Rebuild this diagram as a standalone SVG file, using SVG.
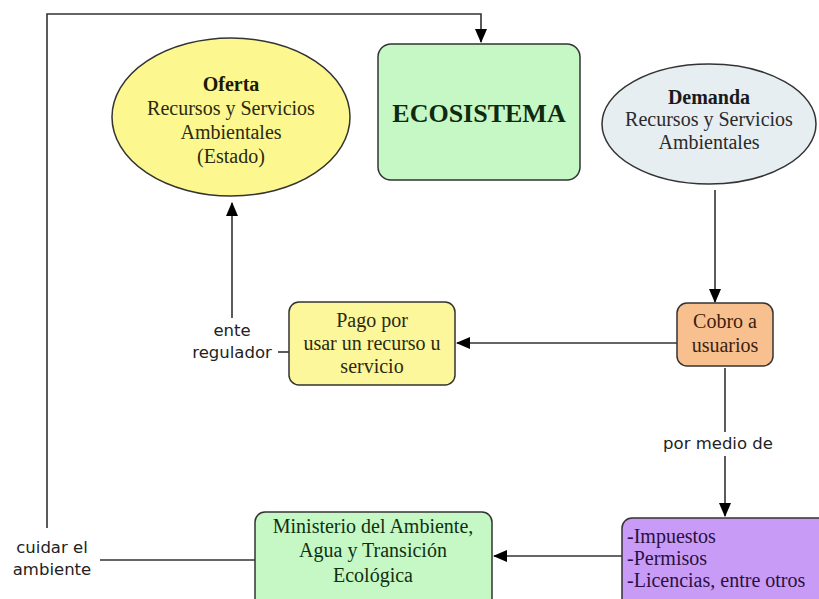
<svg xmlns="http://www.w3.org/2000/svg" width="819" height="599" viewBox="0 0 819 599">
<defs>
<marker id="arr" markerWidth="14" markerHeight="12" refX="13" refY="6" orient="auto" markerUnits="userSpaceOnUse">
<path d="M0,0 L14,6 L0,12 Z" fill="#000"/>
</marker>
<style>
.node{stroke:#333;stroke-width:1.5}
.t{font-family:"Liberation Serif","Times New Roman",serif;font-size:20px;text-anchor:middle}
.b{font-weight:bold}
.l{text-anchor:start}
.big{font-size:26px}
.lbl{font-family:"DejaVu Sans",Verdana,sans-serif;font-size:16.5px;fill:#222;text-anchor:middle}
.c{fill:none;stroke:#333;stroke-width:1.6}
</style>
</defs>
<rect width="819" height="599" fill="#fff"/>
<g id="connectors">
<polyline class="c" points="47,528 47,14 481,14 481,42" marker-end="url(#arr)"/>
<line class="c" x1="232" y1="318" x2="232" y2="203" marker-end="url(#arr)"/>
<line class="c" x1="278" y1="352" x2="289" y2="352"/>
<line class="c" x1="677" y1="343" x2="457" y2="343" marker-end="url(#arr)"/>
<line class="c" x1="715" y1="190" x2="715" y2="302" marker-end="url(#arr)"/>
<line class="c" x1="725" y1="368" x2="725" y2="432"/>
<line class="c" x1="725" y1="456" x2="725" y2="516" marker-end="url(#arr)"/>
<line class="c" x1="622" y1="556" x2="494" y2="556" marker-end="url(#arr)"/>
<line class="c" x1="255" y1="560" x2="100" y2="560"/>
<text class="lbl" x="232" y="336">ente</text>
<text class="lbl" x="232" y="358">regulador</text>
<text class="lbl" x="718" y="449">por medio de</text>
<text class="lbl" x="52" y="553">cuidar el</text>
<text class="lbl" x="52" y="575">ambiente</text>
</g>
<g id="oferta">
<ellipse class="node" cx="231" cy="117" rx="119" ry="79" fill="#fdf78f"/>
<text class="t b" x="231" y="91" fill="#1a1a00">Oferta</text>
<text class="t" x="231" y="115" fill="#2a2a10">Recursos y Servicios</text>
<text class="t" x="231" y="139" fill="#2a2a10">Ambientales</text>
<text class="t" x="231" y="163" fill="#2a2a10">(Estado)</text>
</g>
<g id="ecosistema">
<rect class="node" x="378" y="44" width="202" height="136" rx="13" fill="#c6f8c6"/>
<text class="t b big" x="479" y="122" fill="#0f2a0f">ECOSISTEMA</text>
</g>
<g id="demanda">
<ellipse class="node" cx="709" cy="124" rx="107" ry="60" fill="#e6eef1"/>
<text class="t b" x="709" y="104" fill="#1a1a1a">Demanda</text>
<text class="t" x="709" y="126" fill="#2a2a2a">Recursos y Servicios</text>
<text class="t" x="709" y="149" fill="#2a2a2a">Ambientales</text>
</g>
<g id="pago">
<rect class="node" x="289" y="302" width="166" height="83" rx="10" fill="#fdf79b"/>
<text class="t" x="372" y="327" fill="#2a2a10">Pago por</text>
<text class="t" x="372" y="350" fill="#2a2a10">usar un recurso u</text>
<text class="t" x="372" y="373" fill="#2a2a10">servicio</text>
</g>
<g id="cobro">
<rect class="node" x="677" y="303" width="96" height="63" rx="10" fill="#f9c08f"/>
<text class="t" x="725" y="328" fill="#3a2210">Cobro a</text>
<text class="t" x="725" y="352" fill="#3a2210">usuarios</text>
</g>
<g id="medios">
<rect class="node" x="622" y="518" width="210" height="95" rx="10" fill="#c89cf6"/>
<text class="t l" x="627" y="543" fill="#2a1040">-Impuestos</text>
<text class="t l" x="627" y="565" fill="#2a1040">-Permisos</text>
<text class="t l" x="627" y="587" fill="#2a1040">-Licencias, entre otros</text>
</g>
<g id="ministerio">
<rect class="node" x="255" y="512" width="237" height="100" rx="10" fill="#c6f8c6"/>
<text class="t" x="373" y="533" fill="#103010">Ministerio del Ambiente,</text>
<text class="t" x="373" y="557" fill="#103010">Agua y Transición</text>
<text class="t" x="373" y="582" fill="#103010">Ecológica</text>
</g>
</svg>
